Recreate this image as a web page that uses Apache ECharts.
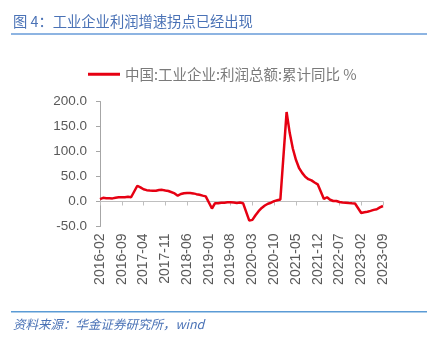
<!DOCTYPE html>
<html>
<head>
<meta charset="utf-8">
<script src="https://cdn.jsdelivr.net/npm/echarts@6/dist/echarts.min.js"></script>
<style>
  html, body { margin: 0; padding: 0; background: #fff; }
  #chart { width: 436px; height: 342px; }
</style>
</head>
<body>
<div id="chart"></div>
<script>
// Monthly categories, Feb 2016 through Sep 2023 (January has no separate release)
const startYear = 2016, startMonth = 2, endYear = 2023, endMonth = 9;
const months = [];
for (let y = startYear; y <= endYear; y++) {
  for (let m = 1; m <= 12; m++) {
    if (y === startYear && m < startMonth) continue;
    if (y === endYear && m > endMonth) break;
    months.push(y + '-' + String(m).padStart(2, '0'));
  }
}

// 工业企业利润总额累计同比 (%), by year; null marks January
const yoy2016 = [4.8, 7.4, 6.5, 6.4, 6.2, 7.6, 8.4, 8.4, 8.6, 9.4, 8.5];
const yoy2017 = [null, 31.5, 28.3, 24.4, 22.7, 22.0, 21.6, 21.6, 22.8, 23.3, 21.9, 21.0];
const yoy2018 = [null, 16.1, 11.6, 15.0, 16.5, 17.2, 17.1, 16.2, 14.7, 13.6, 11.8, 10.3];
const yoy2019 = [null, -14.0, -3.3, -3.4, -2.3, -2.4, -1.7, -1.7, -2.1, -2.9, -2.1, -3.3];
const yoy2020 = [null, -38.3, -36.7, -27.4, -19.3, -12.8, -8.1, -4.4, -2.4, 0.7, 2.4, 4.1];
const yoy2021 = [null, 178.9, 137.3, 106.0, 83.4, 66.9, 57.3, 49.5, 44.7, 42.2, 38.0, 34.3];
const yoy2022 = [null, 5.0, 8.5, 3.5, 1.0, 1.0, -1.1, -2.1, -2.3, -3.0, -3.6, -4.0];
const yoy2023 = [null, -22.9, -21.4, -20.6, -18.8, -16.8, -15.5, -11.7, -9.0];
const profitYoY = [].concat(yoy2016, yoy2017, yoy2018, yoy2019, yoy2020, yoy2021, yoy2022, yoy2023);

const seriesName = '中国:工业企业:利润总额:累计同比 %';
const yMin = -50, yMax = 200, yStep = 50;

const axisFont = 'Arial, "Liberation Sans", sans-serif';
const cjkFont = '"Noto Sans CJK SC", sans-serif';
const titleBlue = '#4A72B6';

const chart = echarts.init(document.getElementById('chart'), null, { renderer: 'canvas' });
chart.setOption({
  animation: false,
  backgroundColor: '#ffffff',
  grid: { left: 100, right: 53, top: 101.5, bottom: 115.5, containLabel: false },
  legend: {
    left: 83, top: 62,
    icon: 'rect', itemWidth: 32, itemHeight: 3, itemGap: 10,
    textStyle: { color: '#7a7a7a', fontSize: 14.5, fontFamily: cjkFont },
    data: [seriesName]
  },
  xAxis: [
    {
      // labels along the bottom edge
      type: 'category', data: months, boundaryGap: false, position: 'bottom',
      axisLine: { show: false, onZero: false },
      axisTick: { show: false },
      axisLabel: {
        interval: 6, rotate: 90, margin: 7,
        color: '#595959', fontSize: 14, fontFamily: axisFont
      },
      splitLine: { show: false }
    },
    {
      // axis line and ticks running along zero
      type: 'category', data: months, boundaryGap: false, position: 'bottom',
      axisLine: { show: true, onZero: true, lineStyle: { color: '#BFBFBF', width: 1 } },
      axisTick: { show: true, interval: 6, length: 4, lineStyle: { color: '#BFBFBF' } },
      axisLabel: { show: false },
      splitLine: { show: false }
    }
  ],
  yAxis: {
    type: 'value', min: yMin, max: yMax, interval: yStep,
    axisLine: { show: true, lineStyle: { color: '#A6A6A6' } },
    axisTick: { show: true, length: 4, lineStyle: { color: '#A6A6A6' } },
    axisLabel: {
      margin: 13, color: '#595959', fontSize: 13.5, fontFamily: axisFont,
      formatter: v => v.toFixed(1)
    },
    splitLine: { show: false }
  },
  series: [{
    name: seriesName,
    type: 'line',
    xAxisIndex: 0,
    data: profitYoY,
    connectNulls: true,
    showSymbol: false,
    symbol: 'none',
    lineStyle: { color: '#E60012', width: 2.5 },
    itemStyle: { color: '#E60012' }
  }],
  graphic: [
    {
      type: 'text', left: 13, top: 14,
      style: {
        text: '图 4：工业企业利润增速拐点已经出现',
        fill: titleBlue, fontSize: 14.3, fontFamily: cjkFont
      }
    },
    {
      type: 'rect', shape: { x: 11, y: 33, width: 416, height: 2 },
      style: { fill: '#8DB4E2' }
    },
    {
      type: 'rect', shape: { x: 11, y: 311, width: 416, height: 1.5 },
      style: { fill: '#5B9BD5' }
    },
    {
      type: 'text', left: 13, top: 318,
      style: {
        text: '资料来源：华金证券研究所，wind',
        fill: titleBlue, fontSize: 12.5, fontStyle: 'italic', fontFamily: cjkFont
      }
    }
  ]
});
</script>
</body>
</html>
